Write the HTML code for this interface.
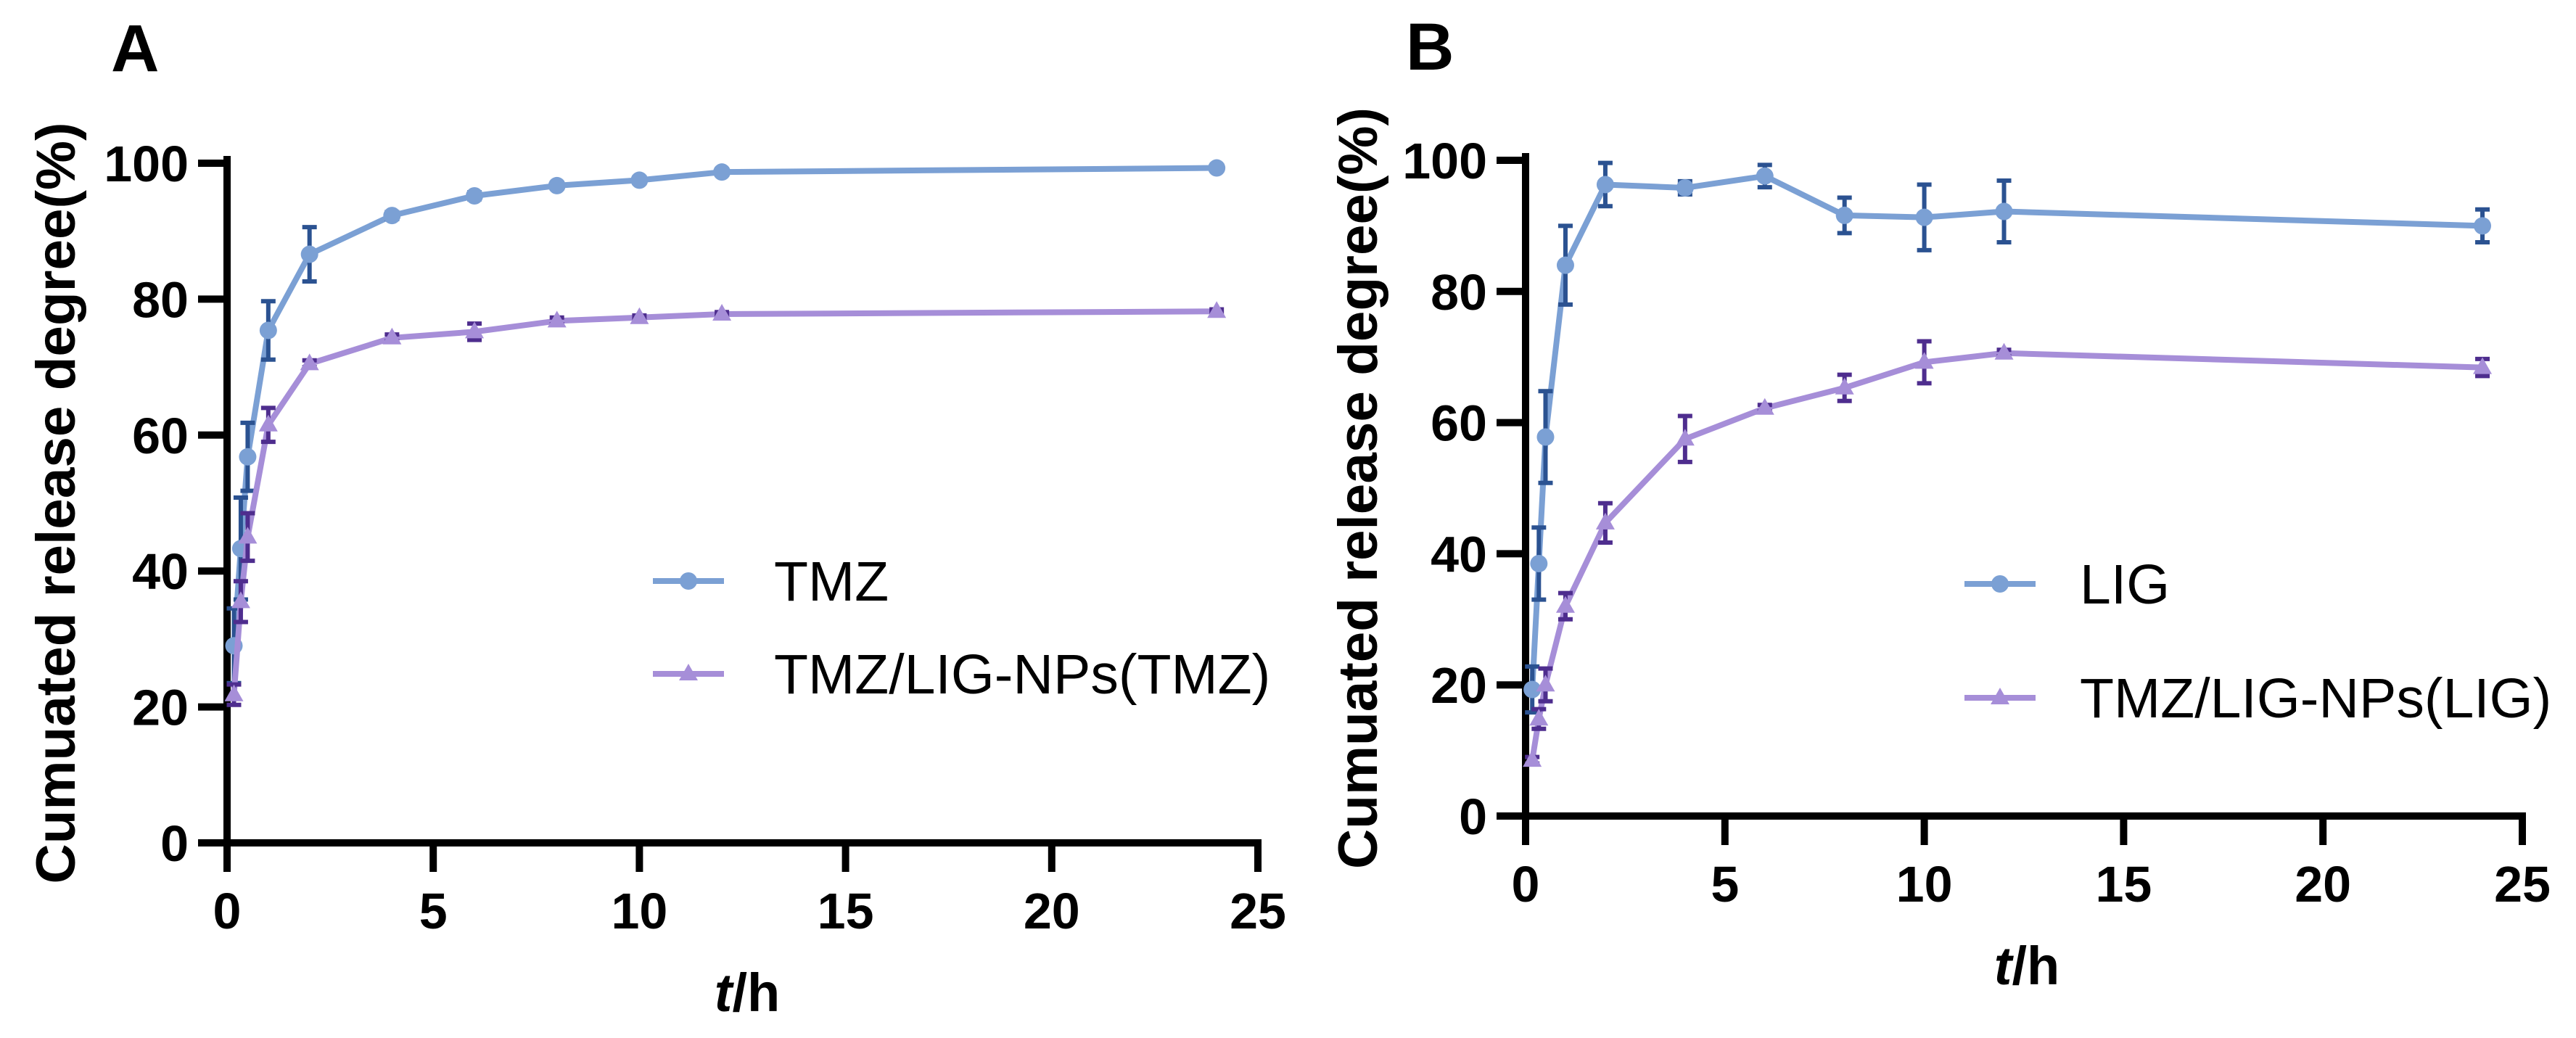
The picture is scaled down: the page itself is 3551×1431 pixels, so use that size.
<!DOCTYPE html>
<html><head><meta charset="utf-8">
<style>
html,body{margin:0;padding:0;background:#fff;}
svg{display:block;font-family:"Liberation Sans",Arial,sans-serif;}
</style></head>
<body>
<svg id="fig" width="3551" height="1431" viewBox="0 0 3551 1431" xmlns="http://www.w3.org/2000/svg"></svg>
<script>
const timesH = [0.167, 0.333, 0.5, 1, 2, 4, 6, 8, 10, 12, 24];
const tmzVals = [29, 43.3, 56.8, 75.4, 86.6, 92.3, 95.2, 96.7, 97.5, 98.7, 99.3];
const tmzErr = [5.5, 7.5, 5, 4.3, 4, 0.5, 0.5, 0.4, 0.4, 0.4, 0.4];
const tmzNpVals = [21.8, 35.5, 45, 61.5, 70.5, 74.3, 75.2, 76.8, 77.3, 77.8, 78.2];
const tmzNpErr = [1.5, 3, 3.5, 2.5, 0.5, 0.5, 1.2, 0.5, 0.3, 0.3, 0.3];
const ligVals = [19.3, 38.5, 57.8, 84, 96.3, 95.8, 97.6, 91.6, 91.3, 92.2, 90];
const ligErr = [3.5, 5.5, 7, 6, 3.3, 1, 1.7, 2.7, 5, 4.7, 2.5];
const ligNpVals = [8.5, 14.8, 20, 32, 44.7, 57.5, 62.2, 65.3, 69.2, 70.6, 68.4];
const ligNpErr = [0.5, 1.5, 2.5, 2, 3, 3.5, 0.5, 2, 3.2, 0.5, 1.3];
const xTicks = [0, 5, 10, 15, 20, 25];
const yTicks = [0, 20, 40, 60, 80, 100];

const NS = "http://www.w3.org/2000/svg";
const svg = document.getElementById("fig");
function mk(tag, attrs, parent, text){
  const e = document.createElementNS(NS, tag);
  for (const k in attrs) e.setAttribute(k, attrs[k]);
  if (text !== undefined) e.textContent = text;
  (parent || svg).appendChild(e);
  return e;
}
const LB="#7BA0D4", DB="#2B5291", LP="#A68ED8", DP="#4E2D8E";

function panel(cfg){
  const g = mk("g", {});
  
  
  const X = v => cfg.x0 + (cfg.x1 - cfg.x0) * v / 25;
  const Y = v => cfg.y0 - (cfg.y0 - cfg.y1) * v / 100;
  const lt = mk("text", {x: cfg.letterX, y: cfg.letterY, "font-size": 92, "font-weight": "bold"}, g, cfg.letter);
  
  
  const ax = mk("path", {d: `M${cfg.x0} ${cfg.y1-5}V${cfg.y0}H${cfg.x1}`, stroke: "#000", "stroke-width": 10, fill: "none", "stroke-linecap": "square"}, g);
  
  
  yTicks.forEach(t => {
    const yy = Y(t);
    const tk = mk("line", {x1: cfg.x0-40, x2: cfg.x0, y1: yy, y2: yy, stroke: "#000", "stroke-width": 10}, g);
    
    
    const tl = mk("text", {x: cfg.x0-53, y: yy+25, "font-size": 70, "font-weight": "bold", "text-anchor": "end"}, g, String(t));
    
    
  });
  xTicks.forEach(t => {
    const xx = X(t);
    const tk = mk("line", {x1: xx, x2: xx, y1: cfg.y0, y2: cfg.y0+40, stroke: "#000", "stroke-width": 10}, g);
    
    
    const tl = mk("text", {x: xx, y: cfg.y0+118, "font-size": 70, "font-weight": "bold", "text-anchor": "middle"}, g, String(t));
    
    
  });
  const cy = (cfg.y0 + cfg.y1)/2;
  const yt = mk("text", {x: 0, y: 0, "font-size": 76, "font-weight": "bold", "text-anchor": "middle",
    transform: `translate(${cfg.titleX},${cy}) rotate(-90)`, textLength: 1050, lengthAdjust: "spacingAndGlyphs"}, g, "Cumuated release degree(%)");
  
  
  const xt = mk("text", {x: cfg.xTitleX, y: cfg.y0+232, "font-size": 74, "font-weight": "bold", "text-anchor": "middle"}, g);
  
  
  mk("tspan", {"font-style": "italic"}, xt, "t");
  mk("tspan", {}, xt, "/h");
  cfg.series.forEach(s => {
    const sg = mk("g", {}, g);
    
    
    const pts = timesH.map((t,i) => `${X(t)},${Y(s.vals[i])}`).join(" ");
    const ln = mk("polyline", {points: pts, fill: "none", stroke: s.color, "stroke-width": 8, "stroke-linejoin": "round"}, sg);
    
    
    timesH.forEach((t,i) => {
      const xx = X(t), lo = Y(s.vals[i]-s.err[i]), hi = Y(s.vals[i]+s.err[i]);
      const eb = mk("path", {d: `M${xx} ${lo}V${hi}M${xx-10} ${lo}H${xx+10}M${xx-10} ${hi}H${xx+10}`, stroke: s.errColor, "stroke-width": 6, fill: "none"}, sg);
      
      
    });
    timesH.forEach((t,i) => {
      const xx = X(t), yy = Y(s.vals[i]);
      let m;
      if (s.marker === "circle") m = mk("circle", {cx: xx, cy: yy, r: 12, fill: s.color}, sg);
      else m = mk("polygon", {points: `${xx},${yy-14} ${xx-13},${yy+9} ${xx+13},${yy+9}`, fill: s.color}, sg);
      
      
    });
  });
  cfg.series.forEach((s, i) => {
    const ly = cfg.legY[i];
    const lg = mk("g", {}, g);
    
    
    mk("line", {x1: cfg.legX, x2: cfg.legX+98, y1: ly, y2: ly, stroke: s.color, "stroke-width": 8}, lg);
    const mx = cfg.legX+49;
    if (s.marker === "circle") mk("circle", {cx: mx, cy: ly, r: 12, fill: s.color}, lg);
    else mk("polygon", {points: `${mx},${ly-14} ${mx-13},${ly+9} ${mx+13},${ly+9}`, fill: s.color}, lg);
    mk("text", {x: cfg.legTextX, y: ly+27, "font-size": 77}, lg, s.label);
  });
}

panel({name: "panel-a", letter: "A", letterX: 153, letterY: 98,
  x0: 313, x1: 1734, y0: 1162, y1: 225, titleX: 103, xTitleX: 1030,
  legX: 900, legTextX: 1067, legY: [801, 929],
  series: [
    {name: "series-tmz", label: "TMZ", vals: tmzVals, err: tmzErr, color: LB, errColor: DB, marker: "circle"},
    {name: "series-tmz-lig-nps-tmz", label: "TMZ/LIG-NPs(TMZ)", vals: tmzNpVals, err: tmzNpErr, color: LP, errColor: DP, marker: "triangle"}
  ]});
panel({name: "panel-b", letter: "B", letterX: 1938, letterY: 96,
  x0: 2103, x1: 3477, y0: 1125, y1: 221, titleX: 1898, xTitleX: 2794,
  legX: 2708, legTextX: 2867, legY: [805, 962],
  series: [
    {name: "series-lig", label: "LIG", vals: ligVals, err: ligErr, color: LB, errColor: DB, marker: "circle"},
    {name: "series-tmz-lig-nps-lig", label: "TMZ/LIG-NPs(LIG)", vals: ligNpVals, err: ligNpErr, color: LP, errColor: DP, marker: "triangle"}
  ]});
</script>
</body></html>
